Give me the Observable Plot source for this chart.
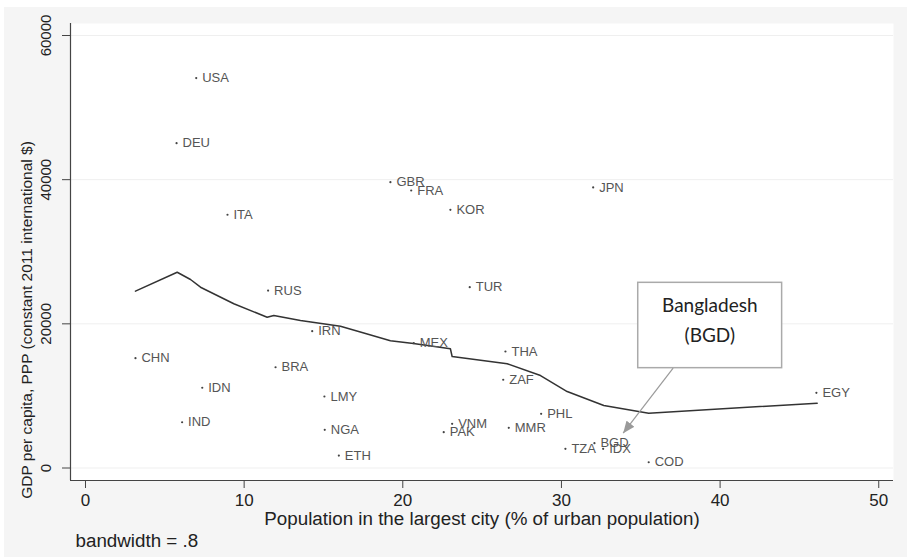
<!DOCTYPE html>
<html><head><meta charset="utf-8">
<script src="https://cdn.jsdelivr.net/npm/d3@7"></script>
<script src="https://cdn.jsdelivr.net/npm/@observablehq/plot@0.6"></script>
<style>
html,body{margin:0;padding:0;background:#fff;}
#chart svg{display:block;}
</style></head><body><div id="chart"></div>
<script>
// Country codes, primacy (% of urban population in largest city), GDP per capita PPP
const countries = ["USA","DEU","ITA","GBR","FRA","KOR","JPN","RUS","TUR","IRN","BRA","CHN","IDN","IND","MEX","THA","ZAF","LMY","NGA","ETH","VNM","PAK","MMR","PHL","TZA","BGD","IDX","COD","EGY"];
const primacy   = [6.98, 5.74, 8.95, 19.22, 20.53, 23.0, 32.0, 11.51, 24.22, 14.29, 11.98, 3.15, 7.36, 6.09, 20.69, 26.47, 26.33, 15.06, 15.08, 15.97, 23.11, 22.58, 26.68, 28.72, 30.25, 32.08, 32.63, 35.5, 46.07];
const gdp       = [54100, 45060, 35130, 39650, 38500, 35820, 38930, 24620, 25080, 18980, 13980, 15230, 11130, 6350, 17310, 16160, 12240, 9920, 5300, 1730, 6130, 4970, 5580, 7520, 2660, 3440, 2660, 800, 10430];

// Kernel-weighted local smoother (bandwidth = .8)
const smoothX = [3.15, 5.78, 6.62, 7.25, 9.35, 11.45, 11.87, 13.55, 16.07, 17.65, 19.22, 20.67, 23.0, 23.11, 26.58, 28.68, 30.36, 32.67, 35.5, 46.12];
const smoothY = [24530, 27160, 26150, 25080, 22780, 20920, 21160, 20460, 19670, 18660, 17650, 17270, 16540, 15470, 14460, 12830, 10610, 8670, 7600, 8990];

const xTicks = [0, 10, 20, 30, 40, 50];
const yTicks = [0, 20000, 40000, 60000];
const xDomain = [-0.945, 50.93];
const yDomain = [-1734, 61665];

const xTitle = "Population in the largest city (% of urban population)";
const yTitle = "GDP per capita, PPP (constant 2011 international $)";
const note = "bandwidth = .8";

// Annotation (Bangladesh callout)
const boxX = [34.84, 43.91];
const boxY = [13850, 25690];
const annotText = ["Bangladesh", "(BGD)"];
const annotTextX = [39.35, 39.35];
const annotTextY = [22540, 18380];
const arrowFrom = [37.04, 13850];
const arrowTo = [33.89, 4830];

const table = countries.map((c, i) => ({code: c, x: primacy[i], y: gdp[i]}));
const smooth = smoothX.map((x, i) => ({x, y: smoothY[i]}));
const annotBox = [{x1: boxX[0], x2: boxX[1], y1: boxY[0], y2: boxY[1]}];
const annotLines = annotText.map((t, i) => ({t, x: annotTextX[i], y: annotTextY[i]}));
const annotArrow = [{x1: arrowFrom[0], y1: arrowFrom[1], x2: arrowTo[0], y2: arrowTo[1]}];

const plot = Plot.plot({
  width: 907,
  height: 558,
  marginLeft: 70,
  marginRight: 14,
  marginTop: 23,
  marginBottom: 78,
  style: {
    fontFamily: "'Liberation Sans', Arial, sans-serif",
    background: "linear-gradient(#fff 0 7px, transparent 7px), linear-gradient(to top, #fff 0 1px, transparent 1px), linear-gradient(90deg, #fff 0 4px, #f5f5f5 4px)",
    overflow: "visible"
  },
  x: {domain: xDomain},
  y: {domain: yDomain},
  marks: [
    Plot.frame({fill: "white", stroke: "none"}),
    Plot.ruleY(yTicks, {stroke: "#efefef", strokeWidth: 1}),
    Plot.ruleY([yDomain[0]], {stroke: "#444", strokeWidth: 1.2}),
    Plot.ruleX([xDomain[0]], {stroke: "#444", strokeWidth: 1.2}),
    Plot.axisX({ticks: xTicks, tickSize: 8, tickPadding: 5, fontSize: 17, label: null, stroke: "#444", fill: "#222"}),
    Plot.axisY({ticks: yTicks, tickSize: 8, tickFormat: () => "", label: null, stroke: "#444"}),
    Plot.text(yTicks, {y: d => d, text: d => String(d), frameAnchor: "left", textAnchor: "middle", lineAnchor: "middle", dx: -24, rotate: -90, fontSize: 15, fill: "#222"}),
    Plot.text([yTitle], {frameAnchor: "left", textAnchor: "middle", lineAnchor: "middle", dx: -43, dy: 68, rotate: -90, fontSize: 15.5, fill: "#222"}),
    Plot.text([xTitle], {frameAnchor: "bottom", lineAnchor: "middle", dy: 38, fontSize: 18.8, fill: "#222"}),
    Plot.text([note], {frameAnchor: "bottom-left", lineAnchor: "middle", dx: 5, dy: 60, textAnchor: "start", fontSize: 18.8, fill: "#222"}),
    Plot.line(smooth, {x: "x", y: "y", stroke: "#333", strokeWidth: 1.5}),
    Plot.dot(table, {x: "x", y: "y", r: 1.1, fill: "#444", stroke: "none"}),
    Plot.text(table, {x: "x", y: "y", text: "code", dx: 6, textAnchor: "start", fontSize: 13, fill: "#555"}),
    Plot.rect(annotBox, {x1: "x1", x2: "x2", y1: "y1", y2: "y2", fill: "white", stroke: "#aaa", strokeWidth: 1.5}),
    Plot.text(annotLines, {x: "x", y: "y", text: "t", fontFamily: "Lato, 'Open Sans', sans-serif", fontSize: 19, fill: "#222"}),
    Plot.link(annotArrow, {x1: "x1", y1: "y1", x2: "x2", y2: "y2", stroke: "#9a9a9a", strokeWidth: 1.2})
  ]
});

// filled arrowhead for the callout
const ns = "http://www.w3.org/2000/svg";
const defs = document.createElementNS(ns, "defs");
const marker = document.createElementNS(ns, "marker");
marker.setAttribute("id", "bgd-head");
marker.setAttribute("viewBox", "0 0 12 10");
marker.setAttribute("refX", "12");
marker.setAttribute("refY", "5");
marker.setAttribute("markerWidth", "12");
marker.setAttribute("markerHeight", "10");
marker.setAttribute("markerUnits", "userSpaceOnUse");
marker.setAttribute("orient", "auto");
const head = document.createElementNS(ns, "path");
head.setAttribute("d", "M0,0L12,5L0,10Z");
head.setAttribute("fill", "#9a9a9a");
marker.appendChild(head);
defs.appendChild(marker);
plot.insertBefore(defs, plot.firstChild);
plot.querySelectorAll('g[aria-label="link"] path').forEach(p => p.setAttribute("marker-end", "url(#bgd-head)"));

document.getElementById("chart").appendChild(plot);
</script></body></html>
